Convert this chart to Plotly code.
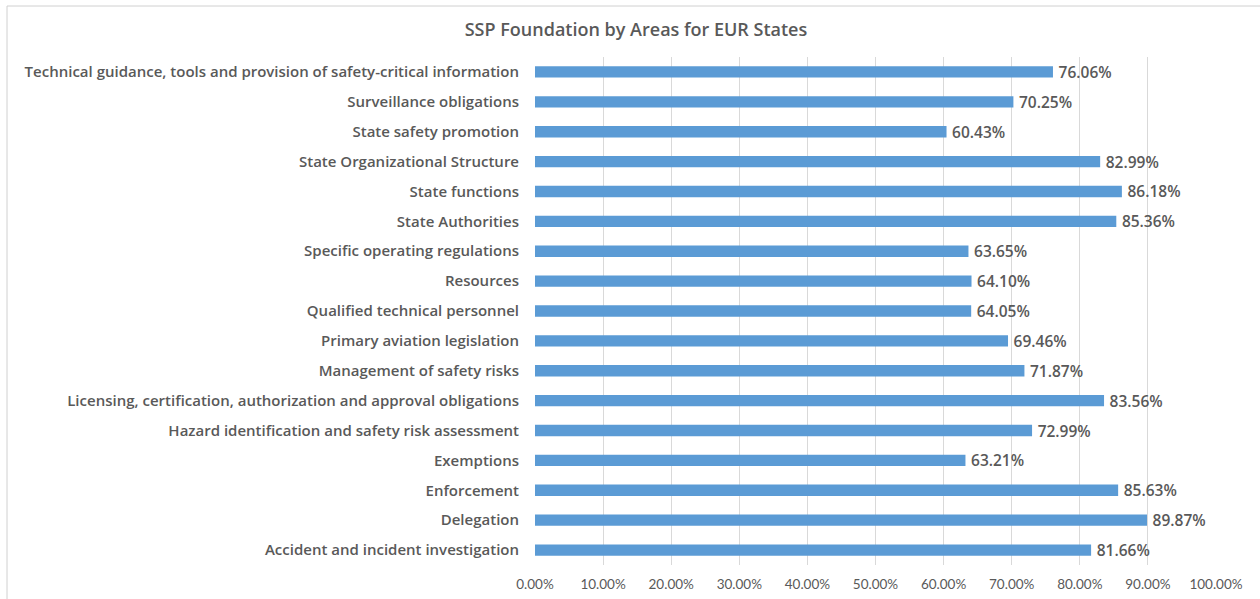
import plotly.graph_objects as go

categories = [
    "Accident and incident investigation",
    "Delegation",
    "Enforcement",
    "Exemptions",
    "Hazard identification and safety risk assessment",
    "Licensing, certification, authorization and approval obligations",
    "Management of safety risks",
    "Primary aviation legislation",
    "Qualified technical personnel",
    "Resources",
    "Specific operating regulations",
    "State Authorities",
    "State functions",
    "State Organizational Structure",
    "State safety promotion",
    "Surveillance obligations",
    "Technical guidance, tools and provision of safety-critical information",
]
values = [0.8166, 0.8987, 0.8563, 0.6321, 0.7299, 0.8356, 0.7187, 0.6946, 0.6405,
          0.6410, 0.6365, 0.8536, 0.8618, 0.8299, 0.6043, 0.7025, 0.7606]
tick_vals = [i / 10 for i in range(11)]
tick_text = [f"{v*100:.2f}%" for v in tick_vals]

W, H = 1260, 599
L, R, T, B = 535, 44, 57, 34
FONT = "Open Sans"
GRAY = "#595959"

fig = go.Figure(go.Bar(
    y=categories, x=values, orientation="h",
    marker=dict(color="#5B9BD5", line=dict(width=0)),
    width=0.38,
    text=[f"\u2009{v*100:.2f}%" for v in values],
    textposition="outside",
    constraintext="none",
    textfont=dict(family=FONT, size=15.5, color=GRAY, weight=600),
    cliponaxis=False,
))

pw = W - L - R
ph = H - T - B
def px2x(px):
    return (px - L) / pw
def py2y(py):
    return (H - B - py) / ph

fig.add_shape(type="line", xref="paper", yref="paper",
              x0=px2x(7), x1=px2x(7), y0=py2y(6), y1=py2y(H + 5),
              line=dict(color="#d0d0d0", width=1))
fig.add_shape(type="line", xref="paper", yref="paper",
              x0=px2x(7), x1=px2x(W + 5), y0=py2y(6), y1=py2y(6),
              line=dict(color="#d0d0d0", width=1))

fig.update_layout(
    width=W, height=H,
    margin=dict(l=L, r=R, t=T, b=B, autoexpand=False),
    paper_bgcolor="white", plot_bgcolor="white",
    title=dict(text="SSP Foundation by Areas for EUR States", x=636 / W, xanchor="center",
               y=1 - 30 / H, yanchor="middle",
               font=dict(family=FONT, size=18, color=GRAY, weight=600)),
    showlegend=False,
    xaxis=dict(range=[0, 1], tickvals=tick_vals, ticktext=tick_text, automargin=False,
               showgrid=True, gridcolor="#d9d9d9", gridwidth=1, zeroline=False,
               showline=False, ticks="", ticklabelstandoff=9,
               tickfont=dict(family="Lato", size=13.5, color=GRAY), fixedrange=True),
    yaxis=dict(categoryorder="array", categoryarray=categories, automargin=False,
               showgrid=False, zeroline=False, showline=False, ticks="",
               ticklabelstandoff=15,
               tickfont=dict(family=FONT, size=15, color=GRAY, weight=600),
               range=[-0.5, len(categories) - 0.5]),
)

fig.write_html("out.html")
